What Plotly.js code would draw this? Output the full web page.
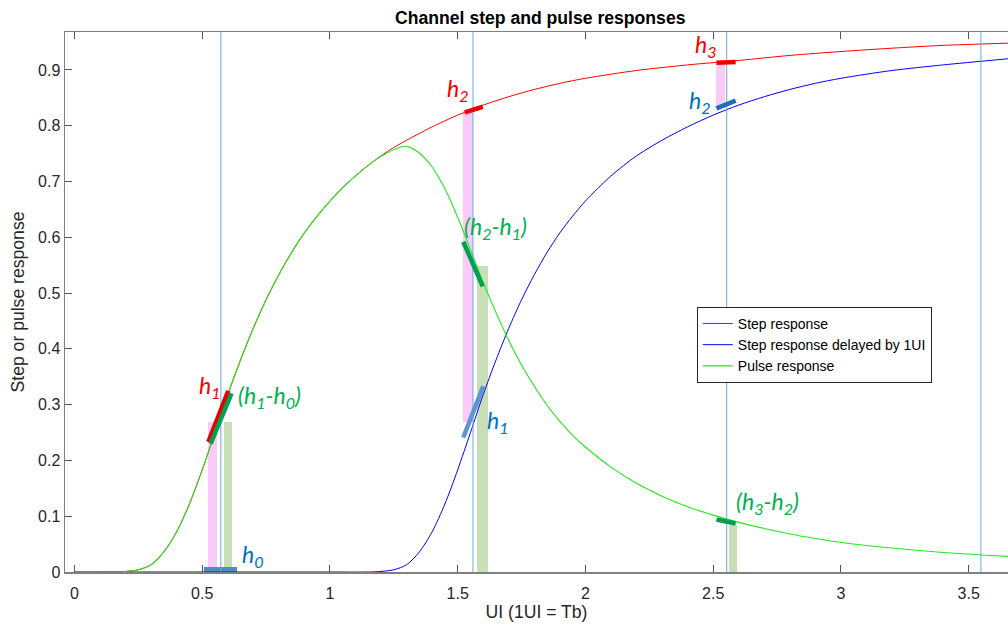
<!DOCTYPE html>
<html><head><meta charset="utf-8">
<script src="https://cdn.plot.ly/plotly-3.0.1.min.js"></script>
<style>html,body{margin:0;padding:0;background:#fff}#chart{width:1008px;height:625px}</style>
</head><body><div id="chart"></div>
<script>
// ---- Data ----
const stepX = [0,0.1,0.15,0.2,0.25,0.3,0.35,0.4,0.45,0.5,0.55,0.6,0.65,0.7,0.75,0.8,0.85,0.9,0.95,1.0,1.05,1.1,1.15,1.2,1.25,1.3,1.35,1.4,1.5,1.6,1.7,1.8,1.9,2.0,2.2,2.4,2.6,2.8,3.0,3.2,3.4,3.654];
const stepY = [0,0,0,0.001,0.004,0.013,0.036,0.072,0.122,0.183,0.250,0.318,0.380,0.437,0.488,0.533,0.573,0.608,0.638,0.665,0.689,0.710,0.729,0.746,0.761,0.774,0.786,0.798,0.819,0.837,0.852,0.865,0.876,0.885,0.899,0.909,0.917,0.926,0.933,0.939,0.944,0.948];

const delayedX = [0,0.5,1.0,1.15,1.2,1.25,1.3,1.35,1.4,1.45,1.5,1.55,1.6,1.65,1.7,1.75,1.8,1.85,1.9,1.95,2.0,2.1,2.2,2.3,2.4,2.5,2.6,2.7,2.8,2.9,3.0,3.2,3.4,3.654];
const delayedY = [0,0,0,0,0.001,0.004,0.013,0.036,0.072,0.122,0.183,0.250,0.318,0.380,0.437,0.488,0.533,0.573,0.608,0.638,0.665,0.710,0.746,0.774,0.798,0.819,0.837,0.852,0.865,0.876,0.885,0.899,0.909,0.920];

const pulseX = [0,0.1,0.15,0.2,0.25,0.3,0.35,0.4,0.45,0.5,0.55,0.6,0.65,0.7,0.75,0.8,0.85,0.9,0.95,1.0,1.05,1.1,1.15,1.2,1.25,1.3,1.35,1.4,1.45,1.5,1.55,1.6,1.65,1.7,1.75,1.8,1.85,1.9,1.95,2.0,2.1,2.2,2.3,2.4,2.5,2.6,2.7,2.8,2.9,3.0,3.2,3.4,3.654];
const pulseY = [0,0,0,0.001,0.004,0.013,0.036,0.072,0.122,0.183,0.250,0.318,0.380,0.437,0.488,0.533,0.573,0.608,0.638,0.665,0.689,0.710,0.729,0.745,0.757,0.763,0.751,0.726,0.687,0.636,0.578,0.519,0.465,0.415,0.371,0.333,0.299,0.270,0.245,0.224,0.188,0.159,0.136,0.117,0.102,0.089,0.078,0.068,0.060,0.053,0.043,0.035,0.028];

const sampleTimes = [0.573, 1.560, 2.553, 3.548];

// cursor bars (pink = step samples, green = pulse samples)
const pinkLeft  = [0.522, 1.522, 2.510];
const pinkRight = [0.556, 1.561, 2.546];
const pinkBottom = [0, 0.269, 0.832];
const pinkTop    = [0.269, 0.829, 0.913];
const greenLeft  = [0.586, 1.574, 2.563];
const greenRight = [0.618, 1.617, 2.592];
const greenTop   = [0.269, 0.549, 0.084];
const h0Left = [0.507], h0Right = [0.637], h0Top = [0.009];

// short sample markers
const redMarkX = [[0.524,0.602],[1.528,1.598],[2.513,2.588]];
const redMarkY = [[0.233,0.325],[0.824,0.834],[0.913,0.914]];
const greenMarkX = [[0.533,0.615],[1.522,1.598],[2.513,2.588]];
const greenMarkY = [[0.230,0.320],[0.592,0.512],[0.094,0.087]];
const lightBlueMarkX = [[1.522,1.600]];
const lightBlueMarkY = [[0.241,0.333]];
const darkBlueMarkX = [[2.513,2.588]];
const darkBlueMarkY = [[0.831,0.845]];

// labels
const labelText = ['h<sub>1</sub>','(h<sub>1</sub>-h<sub>0</sub>)','h<sub>0</sub>','h<sub>2</sub>','(h<sub>2</sub>-h<sub>1</sub>)','h<sub>1</sub>','h<sub>3</sub>','h<sub>2</sub>','(h<sub>3</sub>-h<sub>2</sub>)'];
const labelX = [0.531, 0.633, 0.648, 1.501, 1.517, 1.607, 2.473, 2.448, 2.581];
const labelY = [0.333, 0.314, 0.030, 0.865, 0.618, 0.269, 0.943, 0.843, 0.125];
const labelKind = ['red','green','blue','red','green','blue','red','blue','green'];
const labelAnchor = ['center','left','left','center','left','left','center','center','left'];

const xTicks = [0,0.5,1,1.5,2,2.5,3,3.5];
const xTickText = ['0','0.5','1','1.5','2','2.5','3','3.5'];
const yTicks = [0,0.1,0.2,0.3,0.4,0.5,0.6,0.7,0.8,0.9];
const yTickText = ['0','0.1','0.2','0.3','0.4','0.5','0.6','0.7','0.8','0.9'];

// ---- Build traces ----
function barTrace(l, r, b, t, color) {
  return {
    type: 'bar', x: l.map((v,i)=>(v+r[i])/2), width: l.map((v,i)=>r[i]-v),
    base: b, y: t.map((v,i)=>v-b[i]), marker: {color: color, line: {width: 0}},
    showlegend: false, hoverinfo: 'skip'
  };
}
function segTrace(xs, ys, color, w) {
  const x = [], y = [];
  xs.forEach((s,i)=>{ x.push(s[0], s[1], null); y.push(ys[i][0], ys[i][1], null); });
  return {type:'scatter', mode:'lines', x, y, line:{color, width:w}, showlegend:false, hoverinfo:'skip'};
}
const traces = [
  barTrace(pinkLeft, pinkRight, pinkBottom, pinkTop, 'rgb(250,202,248)'),
  barTrace(greenLeft, greenRight, greenLeft.map(()=>0), greenTop, 'rgb(199,222,183)'),
  barTrace(h0Left, h0Right, [0], h0Top, 'rgb(80,138,205)'),
  {type:'scatter', mode:'lines', x: stepX, y: stepY, name:'Step response', line:{color:'rgb(255,0,0)', width:1, shape:'spline', smoothing:0.8}},
  {type:'scatter', mode:'lines', x: delayedX, y: delayedY, name:'Step response delayed by 1UI', line:{color:'rgb(0,0,255)', width:1, shape:'spline', smoothing:0.8}},
  {type:'scatter', mode:'lines', x: pulseX, y: pulseY, name:'Pulse response', line:{color:'rgb(30,235,30)', width:1.1, shape:'spline', smoothing:0.8}}
];
sampleTimes.forEach(t => traces.push({type:'scatter', mode:'lines', x:[t,t], y:[0,0.968],
  line:{color:'rgb(110,165,220)', width:1}, showlegend:false, hoverinfo:'skip'}));
traces.push(segTrace(redMarkX, redMarkY, 'rgb(232,0,0)', 4.5));
traces.push(segTrace(greenMarkX, greenMarkY, 'rgb(0,160,80)', 4.5));
traces.push(segTrace(lightBlueMarkX, lightBlueMarkY, 'rgb(91,150,210)', 4.5));
traces.push(segTrace(darkBlueMarkX, darkBlueMarkY, 'rgb(30,110,180)', 4.5));

const kindColor = {red:'rgb(245,0,0)', green:'rgb(0,176,80)', blue:'rgb(0,112,192)'};
const annotations = labelText.map((t,i)=>({
  x: labelX[i], y: labelY[i], xref:'x', yref:'y', text:'<i>'+t+'</i>', showarrow:false,
  xanchor: labelAnchor[i], yanchor:'middle',
  font:{family:'Lato, "Open Sans", sans-serif', size:23, color: kindColor[labelKind[i]]}
}));

const fam = 'Arial, "Liberation Sans", sans-serif';
const tickFont = {family:fam, size:16, color:'#262626'};
const labFont = {family:fam, size:17.6, color:'#262626'};
const layout = {
  width:1008, height:625,
  margin:{l:65, r:0, t:32, b:53, pad:0},
  paper_bgcolor:'#fff', plot_bgcolor:'#fff',
  barmode:'overlay', bargap:0,
  title:{text:'<b>Channel step and pulse responses</b>', font:{family:fam, size:17.6, color:'#000'},
    x:0.536, xref:'container', xanchor:'center', y:0.971, yref:'container', yanchor:'middle'},
  xaxis:{range:[-0.037,3.654], tickvals:xTicks, ticktext:xTickText, ticks:'inside', ticklen:7, tickcolor:'#555',
    showline:true, linecolor:'#808080', linewidth:1.5, mirror:'ticks', showgrid:false, zeroline:false,
    ticklabelstandoff:6,
    tickfont:tickFont, title:{text:'UI (1UI = Tb)', font:labFont, standoff:0}},
  yaxis:{range:[0,0.968], tickvals:yTicks, ticktext:yTickText, ticks:'inside', ticklen:7, tickcolor:'#555',
    showline:true, linecolor:'#808080', linewidth:1.5, mirror:false, showgrid:false, zeroline:false,
    tickfont:tickFont, title:{text:'Step or pulse response', font:labFont, standoff:9}},
  legend:{x:0.670, y:0.491, xanchor:'left', yanchor:'top', bgcolor:'#fff', bordercolor:'#262626', borderwidth:1,
    font:{family:fam, size:14, color:'#000'}, tracegroupgap:0},
  annotations: annotations,
  showlegend:true
};
Plotly.newPlot('chart', traces, layout, {displayModeBar:false, staticPlot:true});
</script></body></html>
